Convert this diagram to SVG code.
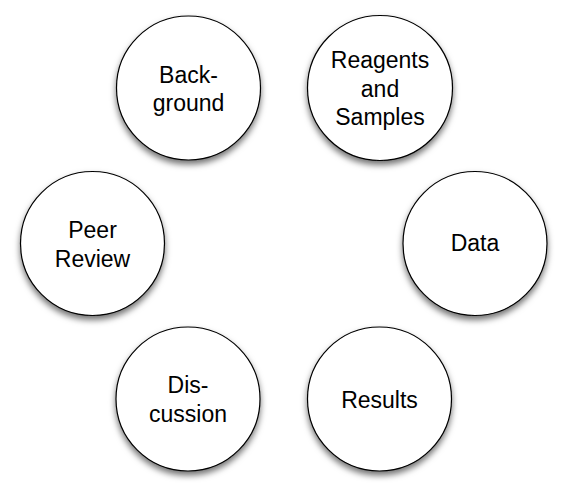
<svg xmlns="http://www.w3.org/2000/svg" width="567" height="495" viewBox="0 0 567 495">
<defs>
<filter id="sh" x="-30%" y="-30%" width="160%" height="170%">
<feDropShadow dx="0" dy="4" stdDeviation="3" flood-color="#000" flood-opacity="0.55"/>
</filter>
<style>
.c{fill:#fff;stroke:#000;stroke-width:1.2;filter:url(#sh)}
.t{font-family:"Liberation Sans",Arial,Helvetica,sans-serif;font-size:23px;fill:#000;text-anchor:middle}
</style>
</defs>
<rect width="567" height="495" fill="#fff"/>
<g id="connectors"/>
<g id="background"><circle class="c" cx="188.5" cy="88" r="72"/><text class="t" x="188.5" y="83">Back-</text><text class="t" x="188.5" y="111">ground</text></g>
<g id="reagents"><circle class="c" cx="380" cy="88" r="72.5"/><text class="t" x="380" y="68">Reagents</text><text class="t" x="380" y="97">and</text><text class="t" x="380" y="125">Samples</text></g>
<g id="data"><circle class="c" cx="475" cy="243.5" r="72"/><text class="t" x="475" y="251">Data</text></g>
<g id="results"><circle class="c" cx="379.5" cy="399" r="72"/><text class="t" x="379.5" y="408">Results</text></g>
<g id="discussion"><circle class="c" cx="188" cy="399" r="72"/><text class="t" x="188" y="393">Dis-</text><text class="t" x="188" y="422">cussion</text></g>
<g id="peer-review"><circle class="c" cx="92.5" cy="243.5" r="72"/><text class="t" x="92.5" y="238">Peer</text><text class="t" x="92.5" y="267">Review</text></g>
</svg>
